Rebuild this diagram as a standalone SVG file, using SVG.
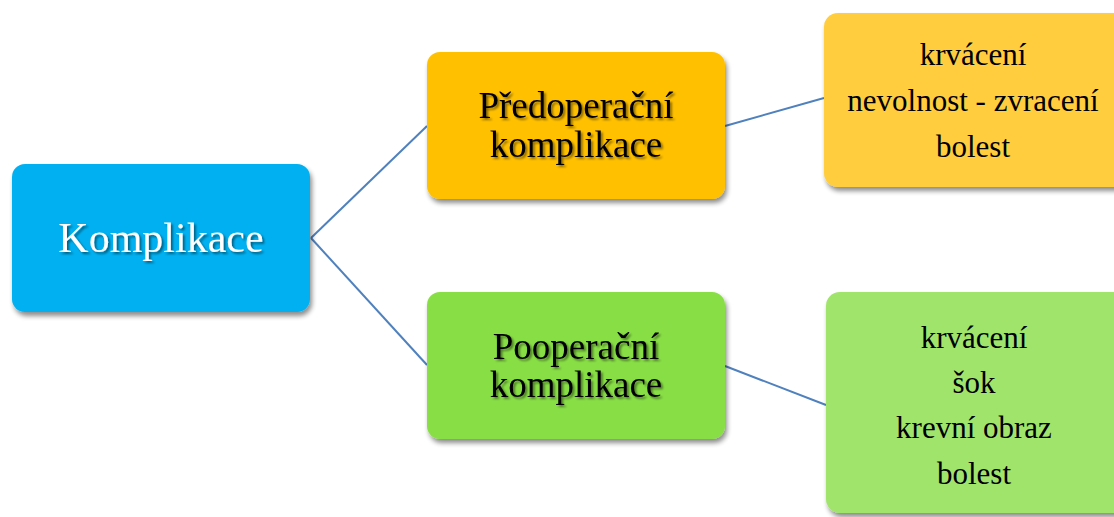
<svg xmlns="http://www.w3.org/2000/svg" width="1114" height="517" viewBox="0 0 1114 517">
  <style>
    .node { stroke: none; filter: url(#boxShadow); }
    .conn { stroke: #4F81BD; stroke-width: 2; fill: none; }
    .t { font-family: "Liberation Serif", "Times New Roman", serif; text-anchor: middle; }
    .big { font-size: 37px; fill: #000; filter: url(#textShadow); }
    .root { font-size: 42px; fill: #fff; filter: url(#textShadow); }
    .list { font-size: 31px; fill: #000; }
  </style>
  <defs>
    <filter id="boxShadow" x="-10%" y="-10%" width="125%" height="130%">
      <feGaussianBlur in="SourceAlpha" stdDeviation="2.5"/>
      <feOffset dx="2" dy="4" result="b"/>
      <feComponentTransfer><feFuncA type="linear" slope="0.45"/></feComponentTransfer>
      <feMerge><feMergeNode/><feMergeNode in="SourceGraphic"/></feMerge>
    </filter>
    <filter id="textShadow" x="-10%" y="-20%" width="125%" height="150%">
      <feGaussianBlur in="SourceAlpha" stdDeviation="1.2"/>
      <feOffset dx="1.5" dy="1.5"/>
      <feComponentTransfer><feFuncA type="linear" slope="0.45"/></feComponentTransfer>
      <feMerge><feMergeNode/><feMergeNode in="SourceGraphic"/></feMerge>
    </filter>
  </defs>

  <rect width="1114" height="517" fill="#ffffff"/>

  <g id="connectors">
    <line class="conn" x1="311" y1="238" x2="427" y2="126"/>
    <line class="conn" x1="311" y1="238" x2="427" y2="365"/>
    <line class="conn" x1="725" y1="126" x2="824" y2="98"/>
    <line class="conn" x1="725" y1="366" x2="826" y2="405"/>
  </g>

  <g id="root">
    <rect class="node" x="12" y="164" width="298" height="148" rx="13" fill="#00B0F0"/>
    <text class="t root" x="161" y="252">Komplikace</text>
  </g>

  <g id="pre">
    <rect class="node" x="427" y="52" width="298" height="147" rx="13" fill="#FFC000"/>
    <text class="t big" x="576" y="118">Předoperační</text>
    <text class="t big" x="576" y="157">komplikace</text>
  </g>

  <g id="pre-list">
    <rect class="node" x="824" y="13" width="310" height="174" rx="14" fill="#FFCD3E"/>
    <text class="t list" x="973" y="65">krvácení</text>
    <text class="t list" x="973" y="111">nevolnost - zvracení</text>
    <text class="t list" x="973" y="157">bolest</text>
  </g>

  <g id="post">
    <rect class="node" x="427" y="292" width="298" height="147" rx="13" fill="#88DF44"/>
    <text class="t big" x="576" y="359">Pooperační</text>
    <text class="t big" x="576" y="397">komplikace</text>
  </g>

  <g id="post-list">
    <rect class="node" x="826" y="292" width="310" height="221" rx="14" fill="#A0E46C"/>
    <text class="t list" x="974" y="348">krvácení</text>
    <text class="t list" x="974" y="393">šok</text>
    <text class="t list" x="974" y="438">krevní obraz</text>
    <text class="t list" x="974" y="484">bolest</text>
  </g>
</svg>
